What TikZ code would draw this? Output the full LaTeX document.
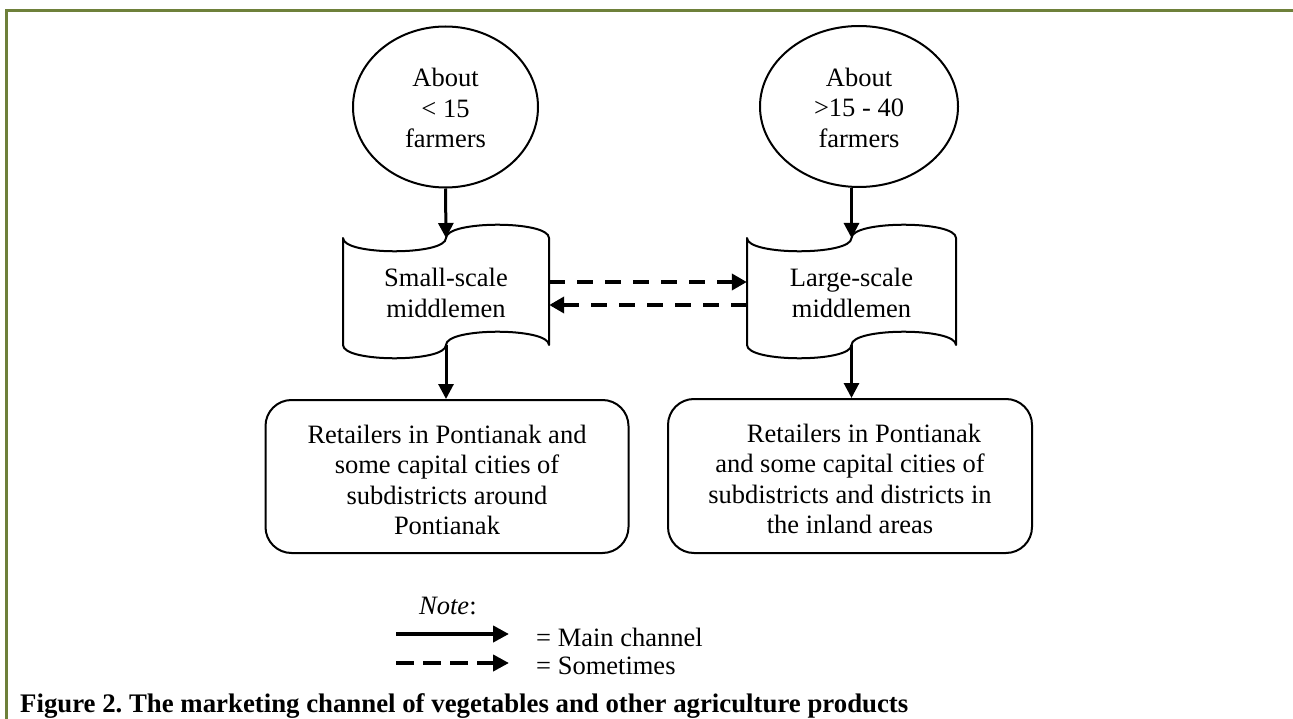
\documentclass[tikz,border=0pt]{standalone}
\usepackage{fontspec}
\setmainfont{Liberation Serif}
\usetikzlibrary{shapes.geometric,arrows.meta}
\definecolor{bordergreen}{RGB}{110,128,58}
\frenchspacing
\begin{document}
\begin{tikzpicture}[x=1pt,y=-1pt,
  txt/.style={font=\fontsize{26.5}{30.4}\selectfont\frenchspacing, align=center, inner sep=0pt},
  farm/.style={ellipse, draw, line width=2pt, txt},
  tapebox/.style={rectangle, txt, minimum width=206pt, minimum height=107pt},
  tapeline/.style={draw, line width=2pt, line join=round},
  retail/.style={rectangle, rounded corners=26pt, draw, line width=2pt, txt, minimum width=363pt, minimum height=153pt},
  mainarrow/.style={line width=3pt, -{Triangle[length=15pt,width=15pt]}},
  somearrow/.style={line width=4pt, dash pattern=on 16pt off 12pt, -{Triangle[length=15pt,width=16pt]}},
  legmain/.style={line width=4.5pt, -{Triangle[length=16pt,width=16pt]}},
  legsome/.style={line width=4.5pt, dash pattern=on 18pt off 9pt, -{Triangle[length=16pt,width=16pt]}}
]
\useasboundingbox (0,0) rectangle (1293,719);
% border
\draw[bordergreen, line width=2.5pt] (6.5,719) -- (6.5,10.5) -- (1293,10.5);

% farmers
\node[farm, minimum width=185pt, minimum height=161pt] (f1) at (445.5,107) {\rule{0pt}{21pt}About\\< 15\\farmers};
\node[farm, minimum width=198pt, minimum height=161pt] (f2) at (859,106.5) {\rule{0pt}{21pt}About\\>15 - 40\\farmers};

% middlemen (punched tape shapes)
\node[tapebox] (sm) at (446,291.5) {\rule{0pt}{21pt}Small-scale\\middlemen};
\node[tapebox, minimum width=209pt] (lm) at (851.5,291.5) {\rule{0pt}{21pt}Large-scale\\middlemen};
\draw[tapeline] (343,238) .. controls (343,255.7) and (446,255.7) .. (446,238)
  .. controls (446,220.3) and (549,220.3) .. (549,238) -- (549,345)
  .. controls (549,327.3) and (446,327.3) .. (446,345)
  .. controls (446,362.7) and (343,362.7) .. (343,345) -- cycle;
\draw[tapeline] (747,238) .. controls (747,255.7) and (851.5,255.7) .. (851.5,238)
  .. controls (851.5,220.3) and (956,220.3) .. (956,238) -- (956,345)
  .. controls (956,327.3) and (851.5,327.3) .. (851.5,345)
  .. controls (851.5,362.7) and (747,362.7) .. (747,345) -- cycle;
\coordinate (sm-in) at (446,238);
\coordinate (sm-out) at (446,345);
\coordinate (lm-in) at (851.5,238);
\coordinate (lm-out) at (851.5,345);

% retailers
\node[retail] (r1) at (447,476.5) {\rule{0pt}{25pt}Retailers in Pontianak and\\some capital cities of\\subdistricts around\\Pontianak};
\node[retail, minimum width=364pt, minimum height=154pt] (r2) at (850,476) {\rule{0pt}{24pt}\hspace*{28pt}Retailers in Pontianak\\and some capital cities of\\subdistricts and districts in\\the inland areas};

% connectors
\draw[mainarrow] (f1.south) -- (sm-in);
\draw[mainarrow] (f2.south -| lm-in) -- (lm-in);
\draw[mainarrow] (sm-out) -- (sm-out |- r1.north);
\draw[mainarrow] (lm-out) -- (lm-out |- r2.north);
\draw[somearrow] ([yshift=9.5pt]sm.east) -- ([yshift=9.5pt]lm.west);
\draw[somearrow] ([yshift=-13.5pt]lm.west) -- ([yshift=-13.5pt]sm.east);

% legend
\node[txt, anchor=base west] (note) at (419,614) {\textit{Note}:};
\coordinate (l1a) at (396,634);
\coordinate (l1b) at (509,634);
\draw[legmain] (l1a) -- (l1b);
\node[txt, anchor=base west] (lmain) at (536,646) {= Main channel};
\coordinate (l2a) at (396,663);
\coordinate (l2b) at (509,663);
\draw[legsome] (l2a) -- (l2b);
\node[txt, anchor=base west] (lsome) at (536,674) {= Sometimes};

% caption
\node[font=\bfseries\fontsize{26.8}{30}\selectfont\frenchspacing, anchor=base west, inner sep=0pt] (cap) at (20,712) {Figure 2. The marketing channel of vegetables and other agriculture products};
\end{tikzpicture}
\end{document}
